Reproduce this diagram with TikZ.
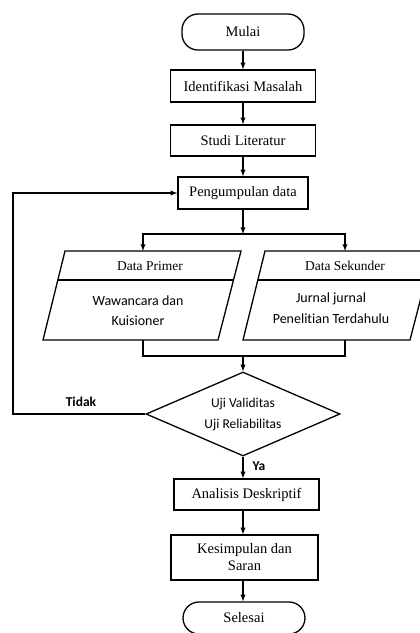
\documentclass[tikz,border=0pt]{standalone}
\usepackage{fontspec}
\setmainfont{Liberation Serif}
\newfontfamily\calibri[Ligatures=NoCommon]{Carlito}
\usepackage{tikz}
\usetikzlibrary{shapes.geometric}

\begin{document}
\begin{tikzpicture}
            [x=1pt, y=-1pt, line width=1.3pt, >=latex,
             box/.style={draw, minimum width=145pt, minimum height=32pt, align=center, font=\fontsize{14.5}{17}\selectfont},
             ujung/.style={box, rounded corners=16pt, minimum width=122pt},
             label/.style={font=\calibri\bfseries\fontsize{13.5}{16}\selectfont},
             isi/.style={align=center, font=\calibri\fontsize{14}{20}\selectfont}]
            \useasboundingbox (0, 0) rectangle (420, 633);
            \node [ujung, minimum height=36pt] (mulai) at (243, 32) {Mulai};
            \node [box] (identifikasi) at (243, 86) {Identifikasi Masalah};
            \node [box, minimum height=31pt] (studi) at (243, 140.5) {Studi Literatur};
            \node [box, minimum width=130pt] (kumpul) at (243, 193) {Pengumpulan data};
            \draw [->] (mulai) -- (identifikasi);
            \draw [->] (identifikasi) -- (studi);
            \draw [->] (studi) -- (kumpul);
            % cabang ke data primer dan sekunder
            \coordinate (cabang) at (243, 234);
            \coordinate (pTop) at (143, 251);
            \coordinate (sTop) at (345, 251);
            \draw [->] (kumpul) -- (cabang);
            \draw [->] (cabang) -| (pTop);
            \draw [->] (cabang) -| (sTop);
            \draw (65, 251) -- (241, 251) -- (218, 340) -- (43, 340) -- cycle;
            \draw (58, 280) -- (233.5, 280);
            \draw (265, 251) -- (433, 251) -- (410, 340) -- (243, 340) -- cycle;
            \draw (258, 280) -- (426, 280);
            \node [font=\fontsize{13.5}{16}\selectfont] (primer) at (150, 266) {Data Primer};
            \node [font=\fontsize{13.5}{16}\selectfont] (sekunder) at (345, 266) {Data Sekunder};
            \node [isi] (wawancara) at (138, 311) {Wawancara dan\\Kuisioner};
            \node [isi, font=\calibri\fontsize{14}{21}\selectfont] (jurnal) at (331, 308) {Jurnal jurnal\\Penelitian Terdahulu};
            % gabung ke uji
            \coordinate (pBot) at (143, 340);
            \coordinate (sBot) at (345, 340);
            \coordinate (gabung) at (243, 356);
            \draw (pBot) |- (gabung) -| (sBot);
            \node [draw, diamond, aspect=2.3, inner sep=0pt, minimum width=194pt, minimum height=84pt, isi, font=\calibri\fontsize{13.5}{21}\selectfont] (uji) at (243, 414) {Uji Validitas\\Uji Reliabilitas};
            \draw [->] (gabung) -- (uji);
            \coordinate (balik) at (13, 193);
            \draw [->] (uji.west) -| (balik) -- (kumpul.west);
            \node [label] (tidak) at (81, 402) {Tidak};
            \node [box, minimum height=31pt] (analisis) at (246.5, 494.5) {Analisis Deskriptif};
            \draw [->] (uji.south) -- (uji.south |- analisis.north);
            \node [label] (ya) at (259, 466) {Ya};
            \node [box, minimum width=147pt, minimum height=45pt] (kesimpulan) at (244.5, 557.5) {Kesimpulan dan\\Saran};
            \node [ujung, minimum height=32pt] (selesai) at (244, 618) {Selesai};
            \draw [->] (analisis.south -| uji.south) -- (kesimpulan.north -| uji.south);
            \draw [->] (kesimpulan.south -| uji.south) -- (selesai.north -| uji.south);
        \end{tikzpicture}
\end{document}
